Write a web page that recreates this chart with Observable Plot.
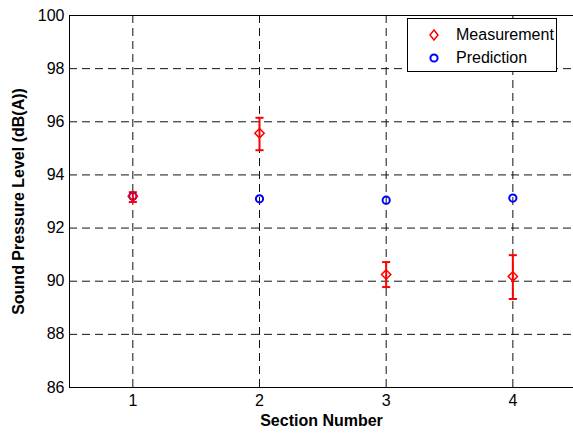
<!DOCTYPE html>
<html>
<head>
<meta charset="utf-8">
<script src="https://cdn.jsdelivr.net/npm/d3@7"></script>
<script src="https://cdn.jsdelivr.net/npm/@observablehq/plot@0.6"></script>
<style>
  html, body { margin: 0; padding: 0; background: #fff; }
  #wrap { position: relative; width: 573px; height: 433px; overflow: hidden; font-family: "Liberation Sans", Arial, sans-serif; }
  #legend { position: absolute; left: 407px; top: 18px; width: 150px; height: 54px; border: 1px solid #000; background: #fff; box-sizing: border-box; }
  .row { position: absolute; left: 0; height: 20px; font-size: 16px; line-height: 20px; color: #000; }
  .row svg { position: absolute; left: 20px; top: 4px; }
  .row span { position: absolute; left: 48px; white-space: nowrap; }
</style>
</head>
<body>
<div id="wrap"></div>
<script>
const sections = [1, 2, 3, 4];
const measured = [93.2, 95.57, 90.25, 90.18];
const measLow = [92.98, 94.93, 89.78, 89.33];
const measHigh = [93.35, 96.15, 90.72, 90.98];
const predicted = [93.2, 93.1, 93.05, 93.13];
const xTicks = [1, 2, 3, 4];
const yTicks = [86, 88, 90, 92, 94, 96, 98, 100];

const meas = sections.map((s, i) => ({x: s, y: measured[i], lo: measLow[i], hi: measHigh[i]}));
const pred = sections.map((s, i) => ({x: s, y: predicted[i]}));
const capHalf = 0.032;

const plot = Plot.plot({
  width: 573,
  height: 433,
  marginLeft: 69,
  marginRight: 0,
  marginTop: 15,
  marginBottom: 46,
  style: {fontFamily: "'Liberation Sans', Arial, sans-serif", fontSize: "16px", color: "#000", background: "#fff"},
  x: {domain: [0.5, 0.5 + 504 / 126.67], label: null},
  y: {domain: [86, 100], label: null},
  marks: [
    Plot.ruleY(yTicks.filter(v => v > 86 && v < 100), {stroke: "#111", strokeWidth: 1, strokeDasharray: "8,5"}),
    Plot.ruleX(xTicks, {stroke: "#111", strokeWidth: 1, strokeDasharray: "8,5"}),
    Plot.ruleY([100], {stroke: "#000", strokeWidth: 1}),
    Plot.ruleY([86], {stroke: "#000", strokeWidth: 1}),
    Plot.ruleX([0.5], {stroke: "#000", strokeWidth: 1}),
    Plot.axisX({ticks: xTicks, tickFormat: d3.format("d"), tickSize: 0, tickPadding: 7, fontSize: "16px", label: null}),
    Plot.axisY({ticks: yTicks, tickFormat: d3.format("d"), tickSize: 0, tickPadding: 5, fontSize: "16px", label: null}),
    Plot.ruleX(meas, {x: "x", y1: "lo", y2: "hi", stroke: "#ff0000", strokeWidth: 2}),
    Plot.link(meas, {x1: d => d.x - capHalf, x2: d => d.x + capHalf, y1: "lo", y2: "lo", stroke: "#ff0000", strokeWidth: 2}),
    Plot.link(meas, {x1: d => d.x - capHalf, x2: d => d.x + capHalf, y1: "hi", y2: "hi", stroke: "#ff0000", strokeWidth: 2}),
    Plot.dot(pred, {x: "x", y: "y", r: 3.6, stroke: "#0000ff", strokeWidth: 2, fill: "none"}),
    Plot.dot(meas, {x: "x", y: "y", symbol: "diamond2", r: 4.2, stroke: "#ff0000", strokeWidth: 1.5, fill: "none"}),
    Plot.text(["Section Number"], {frameAnchor: "bottom", textAnchor: "middle", dy: 38, fontWeight: "bold", fontSize: 16, style: {letterSpacing: "0.4px"}}),
    Plot.text(["Sound Pressure Level (dB(A))"], {frameAnchor: "left", textAnchor: "middle", dx: -51, rotate: -90, fontWeight: "bold", fontSize: 16})
  ]
});

const wrap = document.getElementById("wrap");
wrap.appendChild(plot);

const legend = document.createElement("div");
legend.id = "legend";
legend.innerHTML = `
  <div class="row" style="top:6px;"><svg width="12" height="12"><path d="M6,1 L10,6 L6,11 L2,6 Z" fill="none" stroke="#ff0000" stroke-width="1.5"/></svg><span>Measurement</span></div>
  <div class="row" style="top:29px;"><svg width="12" height="12"><circle cx="6" cy="6" r="3.6" fill="none" stroke="#0000ff" stroke-width="2"/></svg><span>Prediction</span></div>`;
wrap.appendChild(legend);
</script>
</body>
</html>
